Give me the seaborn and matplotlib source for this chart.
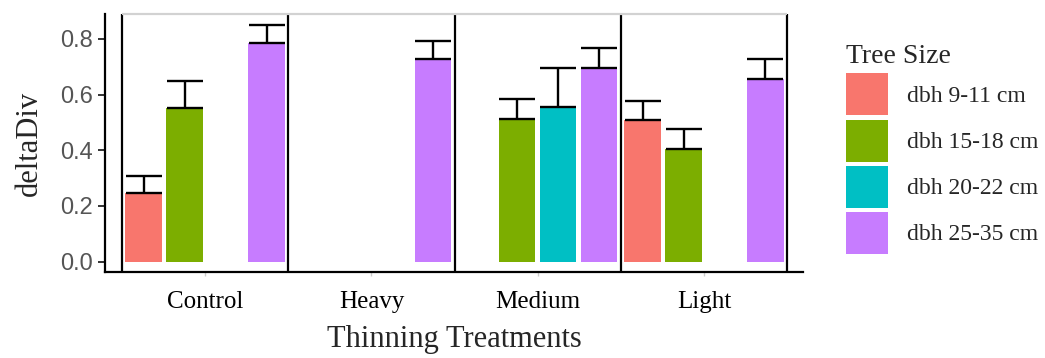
import pandas as pd
import matplotlib
matplotlib.use("Agg")
import matplotlib.pyplot as plt
import seaborn as sns
from matplotlib.patches import Patch

treatments = ["Control", "Heavy", "Medium", "Light"]
tree_sizes = ["dbh 9-11 cm", "dbh 15-18 cm", "dbh 20-22 cm", "dbh 25-35 cm"]
size_colors = ["#F8766D", "#7CAE00", "#00BFC4", "#C77CFF"]

# mean deltaDiv per treatment (same order as `treatments`); None = class absent
mean_9_11 = [0.245, None, None, 0.509]
mean_15_18 = [0.551, None, 0.511, 0.405]
mean_20_22 = [None, None, 0.557, None]
mean_25_35 = [0.784, 0.727, 0.694, 0.655]

# standard errors (upper whisker only)
se_9_11 = [0.064, None, None, 0.066]
se_15_18 = [0.098, None, 0.072, 0.073]
se_20_22 = [None, None, 0.137, None]
se_25_35 = [0.066, 0.064, 0.072, 0.072]

y_ticks = [0.0, 0.2, 0.4, 0.6, 0.8]
y_tick_labels = ["0.0", "0.2", "0.4", "0.6", "0.8"]

means = [mean_9_11, mean_15_18, mean_20_22, mean_25_35]
ses = [se_9_11, se_15_18, se_20_22, se_25_35]

rows = []
for size, m_list, s_list in zip(tree_sizes, means, ses):
    for trt, m, s in zip(treatments, m_list, s_list):
        if m is not None:
            rows.append({"Treatment": trt, "Tree Size": size, "deltaDiv": m, "se": s})
df = pd.DataFrame(rows)

sns.set_theme(style="white")
serif = ["Liberation Serif", "DejaVu Serif"]
sans = ["Liberation Sans", "DejaVu Sans"]

fig = plt.figure(figsize=(10.45, 3.58), dpi=100)
ax = fig.add_axes([0.1005, 0.2402, 0.668, 0.7207])

group_width = 0.985
sns.barplot(
    data=df, x="Treatment", y="deltaDiv", hue="Tree Size",
    order=treatments, hue_order=tree_sizes,
    palette=dict(zip(tree_sizes, size_colors)),
    width=group_width, gap=0.11, errorbar=None, saturation=1,
    linewidth=0, legend=False, ax=ax, zorder=2,
)

x_lo, x_hi = -0.602, 3.596
y_lo, y_hi = -0.037, 0.889
ax.set_xlim(x_lo, x_hi)
ax.set_ylim(y_lo, y_hi)

# upper error whiskers drawn from each bar's own centre and height
slot = group_width / len(tree_sizes)
se_lookup = {(r["Treatment"], r["Tree Size"]): r["se"] for _, r in df.iterrows()}
for bar in ax.patches:
    w = bar.get_width()
    if w <= 0:
        continue
    xc = bar.get_x() + w / 2
    h = bar.get_height()
    i = int(round(xc))
    j = int(round((xc - i) / slot + (len(tree_sizes) - 1) / 2))
    key = (treatments[i], tree_sizes[j])
    if key not in se_lookup:
        continue
    px = ax.transData.transform((w, 0))[0] - ax.transData.transform((0, 0))[0]
    # capsize is half the cap length, in points
    ax.errorbar(xc, h, yerr=[[0], [se_lookup[key]]], fmt="none",
                ecolor="black", elinewidth=1.7, capthick=1.7,
                capsize=px / 2 * 72 / fig.dpi, zorder=4)

# panel separators and light top border
ax.vlines([k - 0.5 for k in range(len(treatments) + 1)], y_lo, y_hi,
          color="black", lw=1.6, zorder=5, clip_on=False)
ax.hlines(y_hi, -0.5, len(treatments) - 0.5, color="#d2d2d2", lw=1.6,
          zorder=5, clip_on=False)

for side in ("top", "right"):
    ax.spines[side].set_visible(False)
for side in ("left", "bottom"):
    ax.spines[side].set_color("black")
    ax.spines[side].set_linewidth(1.6)

ax.set_yticks(y_ticks)
ax.set_yticklabels(y_tick_labels, family=sans, fontsize=17, color="#555555")
ax.tick_params(axis="y", left=True, length=5, width=1.4, color="#333333", pad=3.5)
ax.set_xticks(range(len(treatments)))
ax.set_xticklabels(treatments, family=serif, fontsize=18, color="black")
ax.tick_params(axis="x", bottom=True, length=3, width=1, color="#cccccc", pad=11)

ax.set_xlabel("Thinning Treatments", family=serif, fontsize=22, labelpad=8)
ax.set_ylabel("deltaDiv", family=serif, fontsize=22, labelpad=12)

handles = [Patch(facecolor=c, edgecolor="none") for c in size_colors]
leg = fig.legend(
    handles, tree_sizes, loc="upper left",
    bbox_to_anchor=(846 / 1045, 1 - 44 / 358), frameon=False,
    prop={"family": serif, "size": 17},
    title="Tree Size", title_fontproperties={"family": serif, "size": 20},
    handlelength=1.78, handleheight=2.36, labelspacing=0.18,
    handletextpad=0.8, borderpad=0, borderaxespad=0, alignment="left",
)

fig.savefig("out.png", dpi=100)
